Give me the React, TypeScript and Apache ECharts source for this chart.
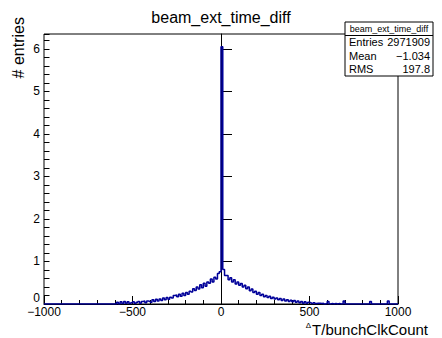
import React, { useEffect, useRef } from "react";
import * as echarts from "echarts";

// Histogram: bins of width 10 from -1000 to 1000 (low edges)
const binWidth = 10;
const xMin = -1000;
const xMax = 1000;
const counts: number[] = [
  // -1000 .. -610
  0, 0, 0, 0, 0, 0, 0, 0, 0, 0,
  0, 0, 0, 0, 0, 0, 0, 0, 0, 0,
  0, 0, 0, 0, 0, 0, 0, 0, 0, 0,
  0, 0, 0, 0, 0, 0, 0, 0, 0, 0,
  // -600 .. -510
  0, 0.04, 0, 0.05, 0.01, 0.06, 0.02, 0.05, 0.01, 0.03,
  // -500 .. -410
  0.05, 0.01, 0.04, 0.06, 0.02, 0.06, 0.07, 0.03, 0.07, 0.06,
  // -400 .. -310
  0.04, 0.1, 0.06, 0.11, 0.07, 0.12, 0.08, 0.14, 0.1, 0.15,
  // -300 .. -210
  0.11, 0.16, 0.14, 0.2, 0.21, 0.17, 0.23, 0.18, 0.25, 0.2,
  // -200 .. -110
  0.27, 0.23, 0.3, 0.28, 0.36, 0.32, 0.4, 0.35, 0.45, 0.38,
  // -100 .. -10
  0.49, 0.42, 0.52, 0.49, 0.59, 0.52, 0.63, 0.59, 0.72, 0.76,
  // 0 .. 90
  6.05, 0.81, 0.67, 0.67, 0.57, 0.62, 0.52, 0.57, 0.47, 0.52,
  // 100 .. 190
  0.44, 0.48, 0.4, 0.44, 0.36, 0.4, 0.31, 0.35, 0.27, 0.3,
  // 200 .. 290
  0.23, 0.27, 0.2, 0.23, 0.17, 0.2, 0.15, 0.18, 0.13, 0.16,
  // 300 .. 390
  0.12, 0.14, 0.1, 0.13, 0.08, 0.12, 0.07, 0.1, 0.06, 0.09,
  // 400 .. 490
  0.05, 0.08, 0.04, 0.07, 0.03, 0.06, 0.02, 0.05, 0.02, 0.04,
  // 500 .. 590
  0.03, 0.01, 0.03, 0.01, 0.02, 0.02, 0.01, 0.02, 0, 0.01,
  // 600 .. 690
  0.06, 0, 0.01, 0, 0.01, 0, 0.01, 0, 0, 0.07,
  // 700 .. 790
  0, 0, 0, 0, 0, 0, 0, 0, 0, 0,
  // 800 .. 890
  0, 0, 0, 0, 0.06, 0, 0, 0, 0, 0,
  // 900 .. 990
  0, 0, 0, 0, 0.07, 0, 0, 0, 0, 0,
];

const xTicks = [-1000, -500, 0, 500, 1000];
const yTicks = [1, 2, 3, 4, 5, 6];
const yZeroLabel = "0";
const yMax = 6.35;

const statsTitle = "beam_ext_time_diff";
const statsRows: [string, string][] = [
  ["Entries", "2971909"],
  ["Mean", "\u22121.034"],
  ["RMS", "197.8"],
];

const FONT = "Liberation Sans, Arial, Helvetica, sans-serif";
const LINE_COLOR = "#000099";

export default function App() {
  const ref = useRef<HTMLDivElement>(null);
  useEffect(() => {
    if (!ref.current) return;
    const chart = echarts.init(ref.current, null, { renderer: "svg" });
    const data: [number, number][] = counts.map((v, i) => [xMin + i * binWidth, v]);
    data.push([xMax, counts[counts.length - 1]]);
    const fmt = (v: number) => String(v).replace("-", "\u2212");

    const statsX = 345;
    const statsY = 22;
    const statsW = 88;
    const rowH = 13.5;

    const graphics: any[] = [
      {
        type: "rect",
        z: 100,
        shape: { x: statsX, y: statsY, width: statsW, height: rowH * 4 },
        style: { fill: "#fff", stroke: "#000", lineWidth: 1 },
      },
      {
        type: "line",
        z: 101,
        shape: { x1: statsX, y1: statsY + rowH, x2: statsX + statsW, y2: statsY + rowH },
        style: { stroke: "#000", lineWidth: 1 },
      },
      {
        type: "text",
        z: 101,
        x: statsX + statsW / 2,
        y: statsY + rowH / 2,
        style: {
          text: statsTitle,
          fontSize: 9,
          fontFamily: FONT,
          fill: "#000",
          align: "center",
          verticalAlign: "middle",
        },
      },
      {
        type: "text",
        z: 101,
        x: 18,
        y: 17,
        rotation: Math.PI / 2,
        style: {
          text: "# entries",
          fontSize: 16,
          fontFamily: FONT,
          fill: "#000",
          align: "right",
          verticalAlign: "middle",
        },
      },
      {
        type: "text",
        z: 101,
        x: 40,
        y: 298,
        style: {
          text: yZeroLabel,
          fontSize: 12,
          fontFamily: FONT,
          fill: "#000",
          align: "right",
          verticalAlign: "middle",
        },
      },
      {
        type: "text",
        z: 101,
        x: 428,
        y: 329,
        style: {
          text: "{d|\u0394}T/bunchClkCount",
          fontSize: 15,
          fontFamily: FONT,
          fill: "#000",
          align: "right",
          verticalAlign: "middle",
          rich: {
            d: { fontSize: 8, fontFamily: FONT, fill: "#000", verticalAlign: "top", padding: [0, 1, 4, 0] },
          },
        },
      },
    ];
    statsRows.forEach((r, i) => {
      const cy = statsY + rowH * (i + 1) + rowH / 2;
      graphics.push({
        type: "text",
        z: 101,
        x: statsX + 4,
        y: cy,
        style: { text: r[0], fontSize: 11, fontFamily: FONT, fill: "#000", align: "left", verticalAlign: "middle" },
      });
      graphics.push({
        type: "text",
        z: 101,
        x: statsX + statsW - 3,
        y: cy,
        style: { text: r[1], fontSize: 11, fontFamily: FONT, fill: "#000", align: "right", verticalAlign: "middle" },
      });
    });

    chart.setOption({
      animation: false,
      backgroundColor: "#fff",
      title: {
        text: statsTitle,
        left: "center",
        top: 4,
        textStyle: { fontSize: 16, fontWeight: "normal", fontFamily: FONT, color: "#000" },
      },
      grid: {
        left: 44,
        right: 44,
        top: 34,
        bottom: 34,
        show: true,
        borderColor: "#000",
        borderWidth: 1,
        backgroundColor: "transparent",
      },
      xAxis: {
        type: "value",
        min: xMin,
        max: xMax,
        interval: 500,
        splitLine: { show: false },
        axisLine: { show: true, onZero: false, lineStyle: { color: "#000", width: 1 } },
        axisTick: { show: true, inside: true, length: 8, lineStyle: { color: "#000" } },
        minorTick: { show: true, splitNumber: 5, length: 4, lineStyle: { color: "#000" } },
        axisLabel: {
          show: true,
          margin: 2,
          fontSize: 12,
          fontFamily: FONT,
          color: "#000",
          formatter: (v: number) => (xTicks.includes(v) ? fmt(v) : ""),
          showMinLabel: true,
          showMaxLabel: true,
        },
      },
      yAxis: [
        {
          type: "value",
          min: 0,
          max: yMax,
          interval: 1,
          splitLine: { show: false },
          axisLine: { show: true, lineStyle: { color: "#000", width: 1 } },
          axisTick: { show: true, inside: true, length: 11, lineStyle: { color: "#000" } },
          axisLabel: {
            margin: 4,
            fontSize: 12,
            fontFamily: FONT,
            color: "#000",
            showMaxLabel: false,
            formatter: (v: number) => (yTicks.includes(v) ? String(v) : ""),
          },
        },
        {
          type: "value",
          min: 0,
          max: yMax,
          interval: 0.2,
          position: "left",
          splitLine: { show: false },
          axisLine: { show: false },
          axisTick: { show: true, inside: true, length: 5.5, lineStyle: { color: "#000" } },
          axisLabel: { show: false },
        },
      ],
      series: [
        {
          type: "line",
          step: "end",
          yAxisIndex: 0,
          data,
          symbol: "none",
          lineStyle: { color: LINE_COLOR, width: 1.5 },
          clip: true,
        },
      ],
      graphic: graphics,
    });
    return () => chart.dispose();
  }, []);
  return <div ref={ref} style={{ width: 442, height: 338, position: "absolute", left: 0, top: 0 }} />;
}
